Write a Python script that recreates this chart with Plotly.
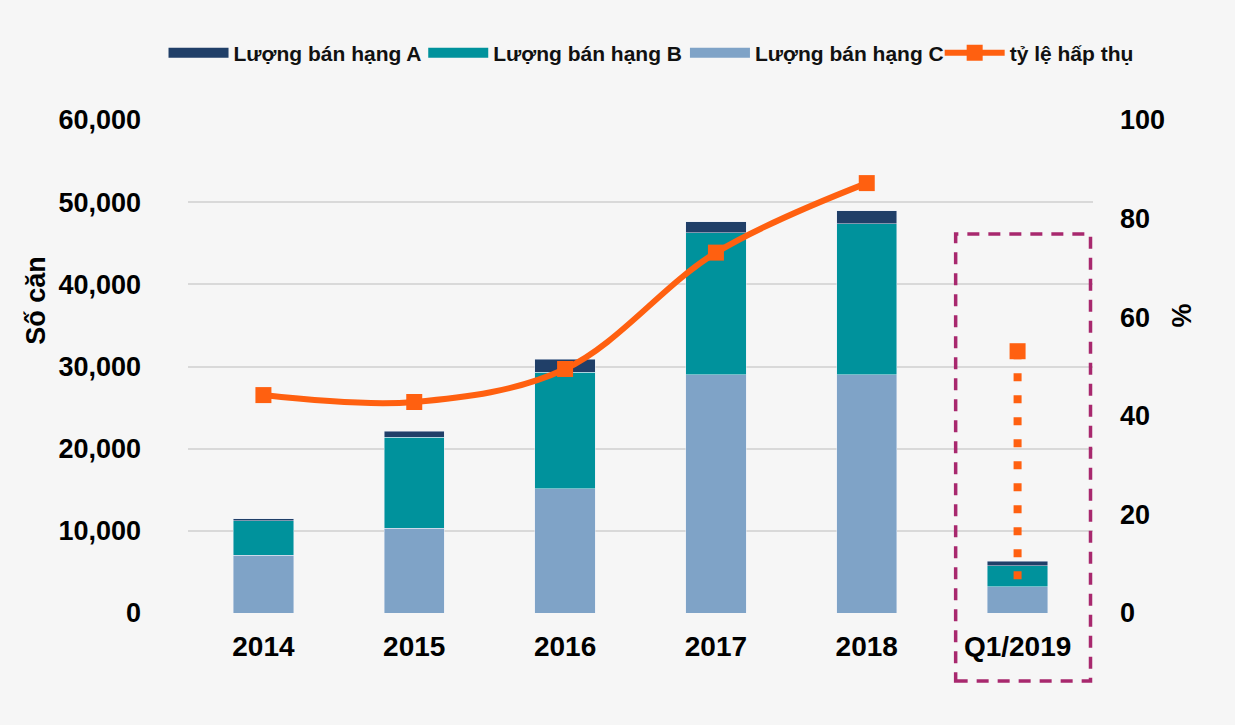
import plotly.graph_objects as go

categories = ["2014", "2015", "2016", "2017", "2018", "Q1/2019"]
sales_a = [250, 750, 1600, 1300, 1600, 530]
sales_b = [4200, 11100, 14200, 17300, 18350, 2550]
sales_c = [7000, 10300, 15100, 29000, 29000, 3200]
rate_years = ["2014", "2015", "2016", "2017", "2018"]
rate_values = [44.2, 42.8, 49.5, 73.1, 87.2]
q1_label = ["Q1/2019"]
q1_rate = [53.1]
q1_drop = [53.1, 5.7]

col_a = "#203F68"
col_b = "#00929C"
col_c = "#7FA3C7"
col_rate = "#FF6010"
bg = "#F6F6F6"
FONT = "Liberation Sans, Arial, sans-serif"

W, H = 1235, 725
L, R, T, B = 187.5, 141.5, 120, 112
pw = W - L - R
ph = H - T - B

def px_x(x):
    return (x - L) / pw

def px_y(y):
    return (H - B - y) / ph

fig = go.Figure()

# legend-only swatches (one legend per entry so they can sit on one row)
for nm, col, lg in [("Lượng bán hạng A", col_a, "legend"),
                    ("Lượng bán hạng B", col_b, "legend2"),
                    ("Lượng bán hạng C", col_c, "legend3")]:
    fig.add_trace(go.Scatter(x=[None], y=[None], mode="lines", name=nm, legend=lg,
                             line=dict(color=col, width=10), showlegend=True))

fig.add_trace(go.Bar(x=categories, y=sales_c, marker_color=col_c, showlegend=False, name="Lượng bán hạng C"))
fig.add_trace(go.Bar(x=categories, y=sales_b, marker_color=col_b, showlegend=False, name="Lượng bán hạng B"))
fig.add_trace(go.Bar(x=categories, y=sales_a, marker_color=col_a, showlegend=False, name="Lượng bán hạng A"))

fig.add_trace(go.Scatter(x=rate_years, y=rate_values, yaxis="y2", mode="lines+markers",
                         name="tỷ lệ hấp thụ", legend="legend4",
                         line=dict(color=col_rate, width=6, shape="spline", smoothing=1.0),
                         marker=dict(symbol="square", size=16, color=col_rate)))
fig.add_trace(go.Scatter(x=q1_label * 2, y=q1_drop, yaxis="y2", mode="lines", showlegend=False,
                         line=dict(color=col_rate, width=8, dash="8px,14px")))
fig.add_trace(go.Scatter(x=q1_label, y=q1_rate, yaxis="y2", mode="markers", showlegend=False,
                         marker=dict(symbol="square", size=16, color=col_rate)))

def leg(xpix):
    return dict(orientation="h", x=px_x(xpix), xanchor="left", y=px_y(53), yanchor="middle",
                font=dict(size=21, family=FONT, weight="bold", color="#111111"), itemwidth=60,
                bgcolor="rgba(0,0,0,0)", borderwidth=0)

fig.update_layout(
    width=W, height=H,
    margin=dict(l=L, r=R, t=T, b=B, pad=0),
    paper_bgcolor=bg, plot_bgcolor=bg,
    barmode="stack", bargap=0.6,
    font=dict(family=FONT, color="#000000"),
    legend=leg(163),
    legend2=leg(423),
    legend3=leg(685),
    legend4=leg(940),
    xaxis=dict(type="category", showgrid=False, ticks="", showline=False,
               tickfont=dict(size=28, weight="bold", family=FONT), ticklabelstandoff=14),
    yaxis=dict(range=[0, 60000], dtick=10000, tickformat=",", showgrid=True,
               gridcolor="#D9D9D9", gridwidth=1.5, zeroline=False, ticks="", showline=False,
               tickfont=dict(size=27, weight="bold", family=FONT), ticklabelstandoff=46),
    yaxis2=dict(range=[0, 100], dtick=20, overlaying="y", side="right", showgrid=False,
                zeroline=False, ticks="", showline=False,
                tickfont=dict(size=27, weight="bold", family=FONT), ticklabelstandoff=26),
    showlegend=True,
)

fig.add_annotation(text="Số căn", xref="paper", yref="paper", x=px_x(35), y=px_y(300),
                   xanchor="center", yanchor="middle",
                   textangle=-90, showarrow=False, font=dict(size=27, weight="bold", family=FONT))
fig.add_annotation(text="%", xref="paper", yref="paper", x=px_x(1183), y=px_y(315),
                   xanchor="center", yanchor="middle",
                   textangle=-90, showarrow=False, font=dict(size=27, weight="bold", family=FONT))

fig.add_shape(type="rect", xref="paper", yref="paper",
              x0=px_x(956), x1=px_x(1091), y0=px_y(681), y1=px_y(234),
              line=dict(color="#A8286E", width=3.5, dash="12px,9px"), fillcolor="rgba(0,0,0,0)")

fig.write_html("out.html", config={"displayModeBar": False},
               post_script="document.body.style.margin='0';document.body.style.background='#F6F6F6';")
